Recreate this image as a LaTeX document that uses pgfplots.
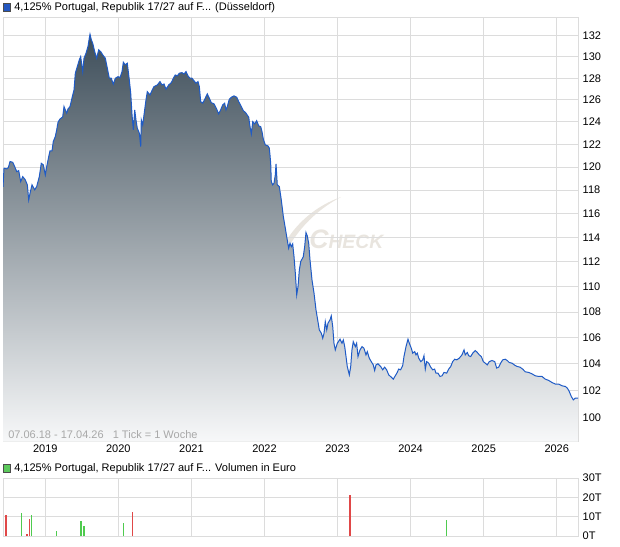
\documentclass[border=0pt]{standalone}
\usepackage{pgfplots}
\pgfplotsset{compat=1.18}
\usepackage{pgfplotstable}
\usepackage{fontspec}
\setmainfont{Liberation Sans}
\definecolor{gridc}{HTML}{DCDCDC}
\definecolor{linec}{HTML}{1F5BC6}
\definecolor{topc}{HTML}{3E4E5A}
\definecolor{botc}{HTML}{F7F8F9}
\definecolor{volred}{HTML}{E04848}
\definecolor{volgreen}{HTML}{4FCB4F}
\definecolor{wmc}{HTML}{E9E5DF}
\definecolor{datec}{HTML}{A8A8A8}
\definecolor{sqblue}{HTML}{2457C0}
\definecolor{sqgreen}{HTML}{5CC95C}

\pgfplotstableread{
x y
2018.421 118.28
2018.435 119.90
2018.472 119.84
2018.494 119.95
2018.517 120.48
2018.554 120.42
2018.581 120.04
2018.609 119.60
2018.636 119.69
2018.663 118.74
2018.691 119.17
2018.726 118.89
2018.754 118.46
2018.773 117.17
2018.791 117.74
2018.818 118.46
2018.855 118.03
2018.882 118.31
2018.918 119.17
2018.945 120.33
2018.973 120.19
2019.000 119.32
2019.019 120.04
2019.047 120.92
2019.064 121.42
2019.092 121.42
2019.109 122.24
2019.137 122.69
2019.156 123.29
2019.174 123.97
2019.201 124.27
2019.238 124.45
2019.256 125.39
2019.274 125.09
2019.293 124.79
2019.311 125.18
2019.338 125.39
2019.365 126.16
2019.393 126.92
2019.411 128.47
2019.438 129.09
2019.465 129.72
2019.484 130.03
2019.512 128.62
2019.530 129.88
2019.557 130.35
2019.584 130.98
2019.602 131.78
2019.612 132.16
2019.630 131.62
2019.649 131.30
2019.676 130.50
2019.703 129.88
2019.731 130.67
2019.758 130.50
2019.794 130.12
2019.821 129.88
2019.849 128.94
2019.876 128.00
2019.903 128.00
2019.931 127.45
2019.958 128.00
2019.995 128.15
2020.022 128.06
2020.050 128.62
2020.068 129.50
2020.095 129.25
2020.122 129.41
2020.150 127.84
2020.169 126.62
2020.187 124.64
2020.205 123.29
2020.224 125.09
2020.241 124.18
2020.259 123.44
2020.287 122.99
2020.306 121.80
2020.314 124.18
2020.333 123.73
2020.360 125.09
2020.378 126.00
2020.396 126.76
2020.433 126.46
2020.460 126.86
2020.488 127.23
2020.533 127.38
2020.570 127.69
2020.597 127.38
2020.625 127.47
2020.652 126.99
2020.689 127.38
2020.725 127.59
2020.752 128.00
2020.779 128.31
2020.807 128.22
2020.834 128.47
2020.871 128.53
2020.898 128.40
2020.926 128.62
2020.953 128.22
2020.980 128.00
2021.008 128.00
2021.035 127.78
2021.062 127.54
2021.090 127.69
2021.108 127.23
2021.127 125.85
2021.154 125.70
2021.182 126.06
2021.217 126.55
2021.245 126.16
2021.272 125.75
2021.309 125.64
2021.346 125.15
2021.373 124.73
2021.400 125.09
2021.428 125.55
2021.455 125.70
2021.473 125.09
2021.491 125.39
2021.518 126.06
2021.546 126.25
2021.583 126.37
2021.620 126.25
2021.647 125.85
2021.683 125.39
2021.710 125.03
2021.747 124.79
2021.784 124.43
2021.802 123.58
2021.820 122.93
2021.839 124.03
2021.866 123.82
2021.893 124.12
2021.921 123.64
2021.948 123.58
2021.966 123.13
2021.984 122.46
2022.011 121.95
2022.048 121.86
2022.066 121.66
2022.075 121.07
2022.085 120.33
2022.093 118.74
2022.112 118.46
2022.130 118.60
2022.148 119.32
2022.158 120.27
2022.175 118.46
2022.203 118.31
2022.230 117.17
2022.258 115.76
2022.285 114.79
2022.304 114.08
2022.331 113.13
2022.349 113.54
2022.367 113.26
2022.386 113.48
2022.404 112.44
2022.422 111.10
2022.441 109.36
2022.459 110.02
2022.477 111.36
2022.496 112.03
2022.513 112.23
2022.531 112.44
2022.550 113.26
2022.568 114.42
2022.586 114.14
2022.605 113.54
2022.623 112.17
2022.650 110.56
2022.678 109.49
2022.705 108.17
2022.732 107.25
2022.750 106.61
2022.778 106.35
2022.797 105.96
2022.815 106.35
2022.832 107.25
2022.852 106.61
2022.869 107.13
2022.897 107.39
2022.914 107.70
2022.934 106.86
2022.951 105.58
2022.969 105.07
2022.997 105.58
2023.034 105.89
2023.061 105.58
2023.079 105.83
2023.098 105.32
2023.116 104.56
2023.133 103.81
2023.161 103.18
2023.180 103.81
2023.197 105.07
2023.215 105.70
2023.243 105.32
2023.261 105.58
2023.280 104.56
2023.307 105.07
2023.335 105.32
2023.361 105.20
2023.389 104.69
2023.407 104.94
2023.434 104.44
2023.461 104.18
2023.489 103.93
2023.508 103.51
2023.526 103.93
2023.553 104.01
2023.590 103.81
2023.618 103.56
2023.644 103.76
2023.672 103.56
2023.700 103.18
2023.735 103.01
2023.763 102.86
2023.790 103.11
2023.817 103.36
2023.836 103.61
2023.863 103.56
2023.891 103.86
2023.909 104.56
2023.937 105.32
2023.964 105.89
2023.982 105.58
2024.009 105.20
2024.029 104.82
2024.056 104.94
2024.074 104.69
2024.092 104.82
2024.111 104.44
2024.139 104.18
2024.166 104.31
2024.183 104.62
2024.201 103.61
2024.220 104.18
2024.248 104.06
2024.275 103.76
2024.302 103.56
2024.329 103.61
2024.347 103.31
2024.374 103.31
2024.402 103.06
2024.430 103.11
2024.457 103.36
2024.494 103.31
2024.521 103.61
2024.549 103.81
2024.576 104.18
2024.603 104.36
2024.631 104.31
2024.666 104.44
2024.703 104.69
2024.731 105.07
2024.748 104.69
2024.776 104.87
2024.795 104.62
2024.822 104.56
2024.850 104.82
2024.885 105.02
2024.913 104.87
2024.940 104.69
2024.968 104.56
2024.995 104.18
2025.022 104.06
2025.050 103.93
2025.077 104.18
2025.114 104.26
2025.151 104.18
2025.178 103.69
2025.205 103.76
2025.232 104.06
2025.260 104.31
2025.295 104.36
2025.323 104.26
2025.350 104.11
2025.388 104.06
2025.424 103.91
2025.460 103.81
2025.497 103.76
2025.534 103.61
2025.569 103.41
2025.616 103.36
2025.661 103.26
2025.706 103.11
2025.753 103.06
2025.798 103.06
2025.843 102.86
2025.890 102.76
2025.935 102.61
2025.981 102.49
2026.027 102.49
2026.072 102.36
2026.118 102.31
2026.145 102.19
2026.172 101.93
2026.199 101.57
2026.227 101.32
2026.254 101.45
2026.291 101.45
}\price

\pgfplotstableread{
x v
2018.46 10.7
2018.75 1.0
2018.78 8.8
2020.19 12.5
2023.17 21.3
}\volred

\pgfplotstableread{
x v
2018.67 12.0
2018.81 10.9
2019.15 2.6
2019.49 7.8
2019.53 5.2
2020.07 6.8
2024.49 8.3
}\volgreen

\begin{document}
\begin{tikzpicture}
\useasboundingbox (0,0) rectangle (465pt,409.5pt);
% watermark (pixel coordinates, origin top-left)
\begin{scope}[x=0.75pt,y=-0.75pt,shift={(0pt,409.5pt)}]
\fill[wmc] (286,241) .. controls (298,222) and (316,206) .. (341,197)
  .. controls (320,208) and (303,224) .. (291,243) -- cycle;
\node[anchor=west, inner sep=0pt, text=wmc] at (309,239)
  {\itshape\bfseries\fontsize{20}{20}\selectfont C\fontsize{14.5}{14.5}\selectfont HECK};
\end{scope}

\begin{axis}[
  at={(2.25pt,78.225pt)}, anchor=south west, scale only axis,
  width=431.25pt, height=318.3pt,
  xmin=2018.421, xmax=2026.291,
  ymode=log, log origin y=infty,
  ymin=98.29, ymax=133.81,
  ytick={100,102,104,106,108,110,112,114,116,118,120,122,124,126,128,130,132},
  yticklabels={100,102,104,106,108,110,112,114,116,118,120,122,124,126,128,130,132},
  yticklabel pos=right,
  xtick={2019,2020,2021,2022,2023,2024,2025,2026},
  xticklabels={2019,2020,2021,2022,2023,2024,2025,2026},
  grid=major,
  major grid style={gridc, line width=0.75pt},
  axis line style={gridc, line width=0.75pt},
  major tick length=0pt,
  tick label style={font=\fontsize{8.25}{10}\selectfont, text=black},
  xticklabel style={yshift=1pt},
  /pgf/number format/assume math mode=true,
]
\addplot[draw=none, top color=topc, bottom color=botc] table[x=x,y=y]{\price} \closedcycle;
\addplot[linec, line width=0.75pt] table[x=x,y=y]{\price};
\end{axis}

\begin{axis}[
  at={(2.25pt,7.5pt)}, anchor=south west, scale only axis,
  width=431.25pt, height=43.5pt,
  xmin=2018.421, xmax=2026.291,
  ymin=0, ymax=30,
  ytick={0,10,20,30},
  yticklabels={0T,10T,20T,30T},
  yticklabel pos=right,
  xtick={2019,2020,2021,2022,2023,2024,2025,2026},
  xticklabels={},
  grid=major,
  major grid style={gridc, line width=0.75pt},
  axis line style={gridc, line width=0.75pt},
  major tick length=0pt,
  tick label style={font=\fontsize{8.25}{10}\selectfont, text=black},
  /pgf/number format/assume math mode=true,
]
\addplot[ycomb, volred, line width=1pt] table[x=x,y=v]{\volred};
\addplot[ycomb, volgreen, line width=1pt] table[x=x,y=v]{\volgreen};
\end{axis}

\begin{scope}[x=0.75pt,y=-0.75pt,shift={(0pt,409.5pt)}]
\filldraw[fill=sqblue, draw=black!70, line width=0.5pt] (3,3.5) rectangle (10.5,11);
\node[anchor=west, inner sep=0pt, font=\fontsize{8.25}{10}\selectfont] at (14,7.5)
  {4,125\% Portugal, Republik 17/27 auf F... (Düsseldorf)};
\filldraw[fill=sqgreen, draw=black!70, line width=0.5pt] (3,464.5) rectangle (10.5,472);
\node[anchor=west, inner sep=0pt, font=\fontsize{8.25}{10}\selectfont] at (14,468.5)
  {4,125\% Portugal, Republik 17/27 auf F... Volumen in Euro};
\node[anchor=west, inner sep=0pt, text=datec, font=\fontsize{8.25}{10}\selectfont] at (8,434.5)
  {07.06.18 - 17.04.26 \ \ 1 Tick = 1 Woche};
\end{scope}
\end{tikzpicture}
\end{document}
